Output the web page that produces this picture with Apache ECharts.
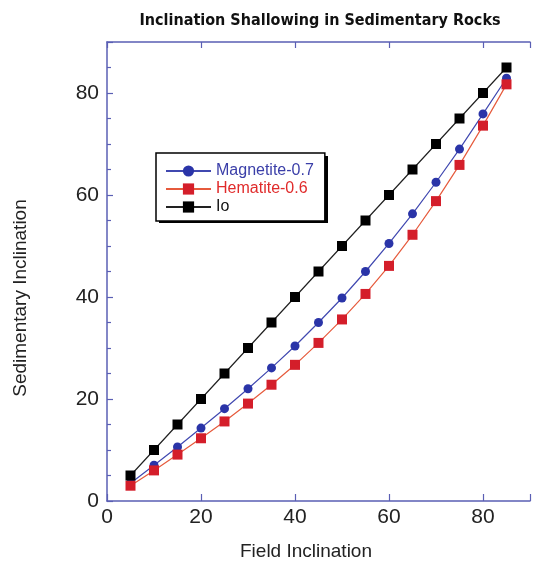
<!DOCTYPE html>
<html><head><meta charset="utf-8">
<script src="https://cdn.jsdelivr.net/npm/echarts@6/dist/echarts.min.js"></script>
<style>html,body{margin:0;padding:0;background:#fff}#c{width:536px;height:565px}</style>
</head><body><div id="c"></div>
<script>
const titleText = "Inclination Shallowing in Sedimentary Rocks";
const xName = "Field Inclination";
const yName = "Sedimentary Inclination";
const fieldInc = [5,10,15,20,25,30,35,40,45,50,55,60,65,70,75,80,85];
const magnetite = [3.5,7.0,10.6,14.3,18.1,22.0,26.1,30.4,35.0,39.8,45.0,50.5,56.3,62.5,69.0,75.9,82.9];
const hematite = [3.0,6.0,9.1,12.3,15.6,19.1,22.8,26.7,31.0,35.6,40.6,46.1,52.2,58.8,65.9,73.6,81.7];
const io = [5,10,15,20,25,30,35,40,45,50,55,60,65,70,75,80,85];
const seriesNames = ["Magnetite-0.7","Hematite-0.6","Io"];

const pair = (ys) => fieldInc.map((x,i)=>[x,ys[i]]);
const axisColor = '#5a5fb4';
const chart = echarts.init(document.getElementById('c'));
chart.setOption({
  animation:false,
  backgroundColor:'#fff',
  title:{text:titleText,left:315,top:8,textAlign:'center',
    textStyle:{fontFamily:'"DejaVu Sans Condensed","Liberation Sans"',fontWeight:'bold',fontSize:16,color:'#111'}},
  grid:{left:107,top:42,height:459,width:423},
  legend:{orient:'vertical',left:156,top:153,padding:[10,11,6,9],itemGap:2,
    itemWidth:45,itemHeight:14,backgroundColor:'#fff',borderColor:'#000',borderWidth:1.5,
    textStyle:{fontFamily:'Liberation Sans',fontSize:16},
    data:[
      {name:seriesNames[0],textStyle:{color:'#3a3ea8'}},
      {name:seriesNames[1],textStyle:{color:'#e02a2a'}},
      {name:seriesNames[2],textStyle:{color:'#111'}}
    ]},
  xAxis:[{type:'value',min:0,max:90,interval:20,position:'bottom',
    axisLine:{show:true,lineStyle:{color:axisColor,width:1.5}},
    axisTick:{show:true,inside:true,length:7,lineStyle:{color:axisColor,width:1.2}},
    axisLabel:{color:'#222',fontSize:21,fontFamily:'Liberation Sans',margin:6,
      formatter:v=> v%20===0?String(v):''},
    splitLine:{show:false}},
   {type:'value',min:0,max:90,interval:20,position:'top',
    axisLine:{show:true,lineStyle:{color:axisColor,width:1.5}},
    axisTick:{show:true,inside:true,length:6,lineStyle:{color:axisColor,width:1.2}},
    axisLabel:{show:false},splitLine:{show:false}}],
  yAxis:{type:'value',min:0,max:90,interval:20,
    axisLine:{show:true,lineStyle:{color:axisColor,width:1.5}},
    axisTick:{show:true,inside:true,length:6,lineStyle:{color:axisColor,width:1.2}},
    minorTick:{show:true,splitNumber:4,length:4,lineStyle:{color:axisColor,width:1.2}},
    axisLabel:{color:'#222',fontSize:21,fontFamily:'Liberation Sans',margin:8,
      formatter:v=> v%20===0?String(v):''},
    splitLine:{show:false}},
  graphic:[
    {type:'rect',z:0,shape:{x:159,y:156,width:169,height:67},style:{fill:'#000'}},
    {type:'text',x:306,y:552,style:{text:xName,textAlign:'center',textVerticalAlign:'middle',
      font:'19px "Liberation Sans"',fill:'#222'}},
    {type:'text',x:21,y:298,rotation:Math.PI/2,style:{text:yName,textAlign:'center',textVerticalAlign:'middle',
      font:'19px "Liberation Sans"',fill:'#222'}}
  ],
  series:[
    {name:seriesNames[0],type:'line',data:pair(magnetite),symbol:'circle',symbolSize:9,
      lineStyle:{color:'#4048b0',width:1.2},itemStyle:{color:'#2a34a8'}},
    {name:seriesNames[1],type:'line',data:pair(hematite),symbol:'rect',symbolSize:10,
      lineStyle:{color:'#e65a3c',width:1.2},itemStyle:{color:'#d41e2a'}},
    {name:seriesNames[2],type:'line',data:pair(io),symbol:'rect',symbolSize:10,
      lineStyle:{color:'#222',width:1.2},itemStyle:{color:'#000'}}
  ]
});
</script></body></html>
